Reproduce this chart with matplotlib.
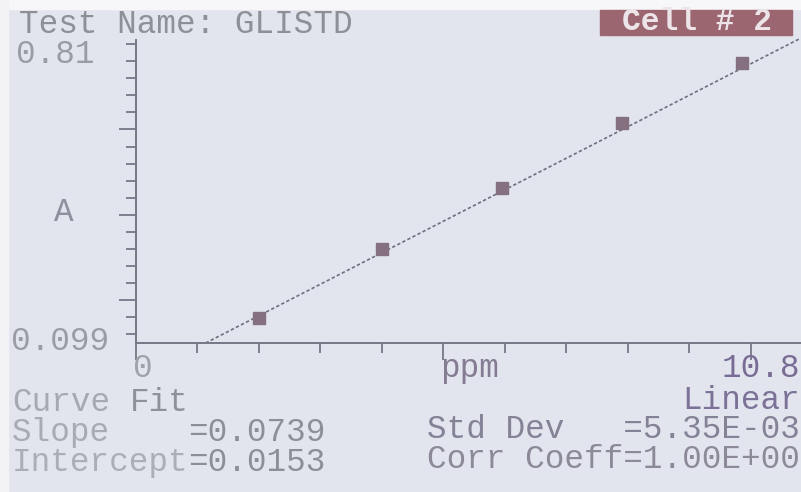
import numpy as np
import matplotlib
matplotlib.use("Agg")
import matplotlib.pyplot as plt
from matplotlib.patches import Rectangle

# calibration standards (ppm) and measured absorbance
conc = [2.0, 4.0, 5.95, 7.9, 9.85]
absorb = [0.158, 0.320, 0.463, 0.615, 0.756]
slope = 0.0739
intercept = 0.0153
x_max = 10.8
y_min, y_max = 0.099, 0.81

x_major = [0, 5, 10]
x_minor = [1, 2, 3, 4, 6, 7, 8, 9]
y_major = [0.2, 0.4, 0.6]
y_minor = [0.12, 0.16, 0.24, 0.28, 0.32, 0.36, 0.44, 0.48, 0.52, 0.56, 0.64, 0.68, 0.72, 0.76, 0.80]

W, H = 801, 492
bg = "#e2e4ee"
axc = "#767888"
mono = ["Liberation Mono", "DejaVu Sans Mono"]
fs = 23.5
pitch = 0.6 * fs * 100 / 72  # character cell width in px

fig = plt.figure(figsize=(W / 100, H / 100), dpi=100, facecolor=bg)

# bright edges of the screen
fig.patches.append(Rectangle((0, 1 - 9 / H), 1, 9 / H, transform=fig.transFigure,
                             color="#f7f7f9", zorder=0))
fig.patches.append(Rectangle((0, 0), 8 / W, 1, transform=fig.transFigure,
                             color="#f3f3f6", zorder=0))

ax = fig.add_axes([136 / W, 1 - 343 / H, (800 - 136) / W, (343 - 40) / H])
ax.set_facecolor("none")
ax.set_xlim(0, x_max)
ax.set_ylim(y_min, y_max)

for s in ["top", "right"]:
    ax.spines[s].set_visible(False)
for s in ["left", "bottom"]:
    ax.spines[s].set_color(axc)
    ax.spines[s].set_linewidth(1.4)

ax.set_xticks(x_major)
ax.set_xticks(x_minor, minor=True)
ax.set_yticks(y_major)
ax.set_yticks(y_minor, minor=True)
ax.tick_params(which="major", length=12, width=1.3, color=axc, direction="out",
               labelbottom=False, labelleft=False)
ax.tick_params(which="minor", length=7, width=1.3, color=axc, direction="out")

# fitted line from slope / intercept
xs = np.array([(y_min - intercept) / slope, x_max])
ax.plot(xs, slope * xs + intercept, color="#6e7080", lw=1.2,
        linestyle=(0, (2.0, 1.4)), clip_on=False)
ax.plot(conc, absorb, "s", ms=8.5, color="#85707f", mec="#85707f", zorder=3)


def put(x, y, s, color, ha="left", **kw):
    fig.text(x / W, 1 - y / H, s, ha=ha, va="baseline", color=color,
             family=mono, fontsize=fs, **kw)


put(19, 33, "Test Name: GLISTD", "#8e9098")
put(16, 63, "0.81", "#9a9ca4")
put(11, 350, "0.099", "#9a9ca4")
put(54, 221, "A", "#8e90a0")
put(133, 377, "0", "#a0a2aa")
put(440, 377, "ppm", "#857c94")
put(800, 377, "10.8", "#786c94", ha="right")

put(12, 411, "Curve", "#a6a8b2")
put(12 + 6 * pitch, 411, "Fit", "#8e909a")
put(800, 409, "Linear", "#7c7298", ha="right")

put(12, 441, "Slope", "#a8aab4")
put(12 + 9 * pitch, 441, "=0.0739", "#8c8e98")
put(12, 471, "Intercept", "#acaeb6")
put(12 + 9 * pitch, 471, "=0.0153", "#8c8e98")

put(800, 438, "Std Dev   =5.35E-03", "#848296", ha="right")
put(800, 468, "Corr Coeff=1.00E+00", "#8c8a98", ha="right")

# cell indicator
fig.patches.append(Rectangle((600 / W, 1 - 35 / H), 192 / W, 25 / H,
                             transform=fig.transFigure, color="#9b6670", zorder=1))
fig.text(697 / W, 1 - 22 / H, "Cell # 2", ha="center", va="center", color="#ece4e8",
         family=mono, fontsize=22.5, fontweight="bold", zorder=2)

fig.savefig("out.png", dpi=100, facecolor=bg)
